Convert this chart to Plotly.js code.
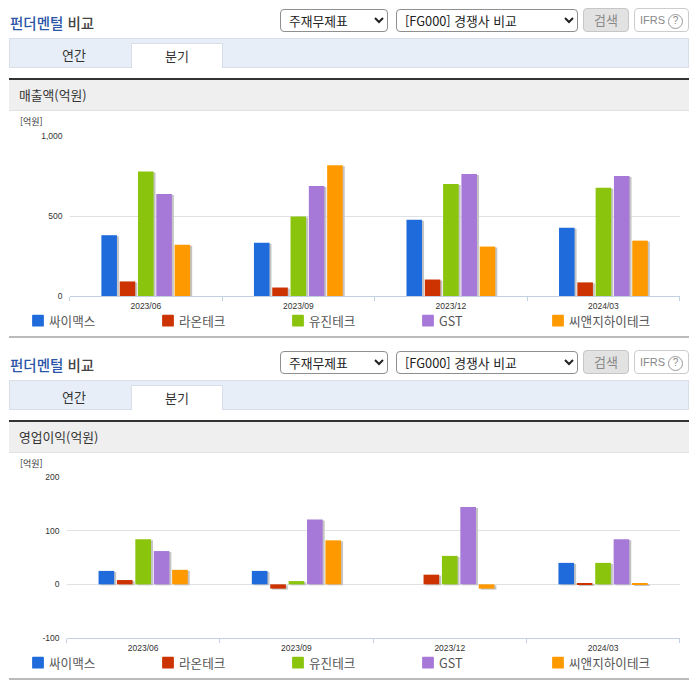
<!DOCTYPE html>
<html lang="ko">
<head>
<meta charset="utf-8">
<title>펀더멘털 비교</title>
<script src="https://cdn.plot.ly/plotly-3.0.1.min.js"></script>
<style>
html,body{margin:0;padding:0;background:#fff;}
body{width:696px;height:684px;position:relative;overflow:hidden;font-family:"Noto Sans CJK KR","Noto Sans",sans-serif;color:#333;}
.section{position:absolute;left:0;width:696px;height:342px;}
.abs{position:absolute;box-sizing:border-box;}
.title{left:10px;top:13px;font-size:14.5px;line-height:20px;font-weight:500;color:#444;}
.title b{color:#2a55a8;font-weight:500;}
select{position:absolute;box-sizing:border-box;height:23px;top:9px;background:#fff;border:1px solid #8f8f8f;border-radius:4px;font:12.8px "Noto Sans CJK KR",sans-serif;color:#222;padding:0 0 0 4px;margin:0;}
.btn{top:8px;height:24px;border-radius:4px;font-size:13px;line-height:22px;text-align:center;color:#888;}
.search{left:583px;width:46px;background:#e2e2e2;border:1px solid #c6c6c6;}
.ifrs{left:634px;width:55px;background:#fff;border:1px solid #ccc;font-family:"Liberation Sans",sans-serif;font-size:11px;}
.ifrs i{display:inline-block;font-style:normal;width:13px;height:13px;line-height:12px;border:1px solid #999;border-radius:50%;font-size:10px;margin-left:3px;}
.tabs{left:9px;top:38px;width:680px;height:30px;background:#e8eef8;border:1px solid #d8dfea;}
.tab{top:43px;height:25px;font-size:13px;line-height:24px;text-align:center;color:#333;}
.tab.off{left:24px;width:100px;}
.tab.on{left:131px;width:92px;background:#fff;border:1px solid #d8dfea;border-bottom:none;}
.head{left:9px;top:78px;width:680px;height:33px;background:#efefef;border-top:2px solid #333;border-bottom:1px solid #e2e2e2;font-size:12.8px;line-height:30px;padding-left:10px;color:#333;}
.unit{left:20px;top:116px;font-size:9px;line-height:12px;color:#333;}
.rule{left:9px;top:336px;width:680px;height:2px;background:#bbb;}
.plot{position:absolute;left:0;top:110px;width:696px;height:228px;}
.barlayer .point path{filter:drop-shadow(2px 1px 0.3px #c4c4c4);}
.legend .legendsymbols{transform:translateX(29px);}
</style>
</head>
<body>
<div id="root"></div>
<script>
const periods = ["2023/06", "2023/09", "2023/12", "2024/03"];
const companies = ["싸이맥스", "라온테크", "유진테크", "GST", "씨앤지하이테크"];
const colors = ["#1f6bdc", "#cc3300", "#8bc40c", "#a678d8", "#ff9900"];

const sales_cymechs = [380, 333, 476, 427];
const sales_raontech = [91, 53, 103, 85];
const sales_eugene = [778, 497, 700, 676];
const sales_gst = [638, 688, 762, 750];
const sales_cnghitech = [321, 817, 309, 346];

const op_cymechs = [25, 25, null, 40];
const op_raontech = [8, -8, 18, 2];
const op_eugene = [84, 6, 53, 40];
const op_gst = [62, 121, 144, 84];
const op_cnghitech = [27, 82, -8, 2];

const salesSeries = [sales_cymechs, sales_raontech, sales_eugene, sales_gst, sales_cnghitech];
const opSeries = [op_cymechs, op_raontech, op_eugene, op_gst, op_cnghitech];

function section(top, metric, id) {
  const s = document.createElement('div');
  s.className = 'section';
  s.style.top = top + 'px';
  s.innerHTML = `
    <div class="abs title"><b>펀더멘털</b> 비교</div>
    <select style="left:280px;width:108px"><option>주재무제표</option></select>
    <select style="left:396px;width:182px"><option>[FG000] 경쟁사 비교</option></select>
    <div class="abs btn search">검색</div>
    <div class="abs btn ifrs">IFRS<i>?</i></div>
    <div class="abs tabs"></div>
    <div class="abs tab off">연간</div>
    <div class="abs tab on">분기</div>
    <div class="abs head">${metric}</div>
    <div class="plot" id="${id}"></div>
    <div class="abs unit">[억원]</div>
    <div class="abs rule"></div>`;
  document.getElementById('root').appendChild(s);
}

function draw(id, series, range, tickvals, ml, mt, mb) {
  const traces = companies.map((name, i) => ({
    type: 'bar', name, x: periods, y: series[i],
    marker: {color: colors[i]}, cliponaxis: false, hoverinfo: 'x+y+name'
  }));
  const layout = {
    width: 696, height: 228,
    margin: {l: 0, r: 0, t: mt, b: mb, pad: 0},
    paper_bgcolor: 'rgba(0,0,0,0)', plot_bgcolor: 'rgba(0,0,0,0)',
    barmode: 'group', bargap: 0.4, bargroupgap: 0.15,
    font: {family: '"Liberation Sans", sans-serif', size: 10, color: '#333'},
    xaxis: {
      domain: [ml / 696, 679.7 / 696],
      type: 'category', tickson: 'boundaries', ticks: 'outside', ticklen: 4, tickwidth: 1,
      tickcolor: '#c2d0e2', showline: true, linecolor: '#c2d0e2', linewidth: 1,
      showgrid: false, zeroline: false, tickfont: {size: 8.5, color: '#333'}, ticklabelstandoff: 2
    },
    yaxis: {
      range, tickmode: 'array', tickvals, ticktext: tickvals.map(v => v === 1000 ? '1,000' : String(v)),
      showgrid: true, gridcolor: '#dfe1e4', gridwidth: 1, zeroline: true, zerolinecolor: '#dfe1e4',
      zerolinewidth: 1, showline: false, ticks: '', ticklabelstandoff: 6, tickfont: {size: 8.5, color: '#333'}
    },
    showlegend: true,
    legend: {
      orientation: 'h', xref: 'container', yref: 'container', x: 9 / 696, xanchor: 'left',
      y: 0.0087, yanchor: 'bottom', entrywidthmode: 'pixels', entrywidth: 85, traceorder: 'normal',
      font: {family: '"Noto Sans CJK KR", sans-serif', size: 12.6, color: '#555'}, bgcolor: 'rgba(0,0,0,0)'
    }
  };
  return Plotly.newPlot(id, traces, layout, {displayModeBar: false, responsive: false}).then(() => {
    document.querySelectorAll('#' + id + ' .legendpoints path').forEach(p => {
      const f = p.style.fill;
      p.style.stroke = f; p.style.strokeWidth = '2px'; p.style.strokeLinejoin = 'round';
      p.style.transform = 'scale(0.84)';
    });
  });
}

section(0, '매출액(억원)', 'chartSales');
section(342, '영업이익(억원)', 'chartOp');
draw('chartSales', salesSeries, [0, 1000], [0, 500, 1000], 69.5, 25.5, 41.7);
draw('chartOp', opSeries, [-100, 200], [-100, 0, 100, 200], 66.5, 25.3, 41.7);
</script>
</body>
</html>
